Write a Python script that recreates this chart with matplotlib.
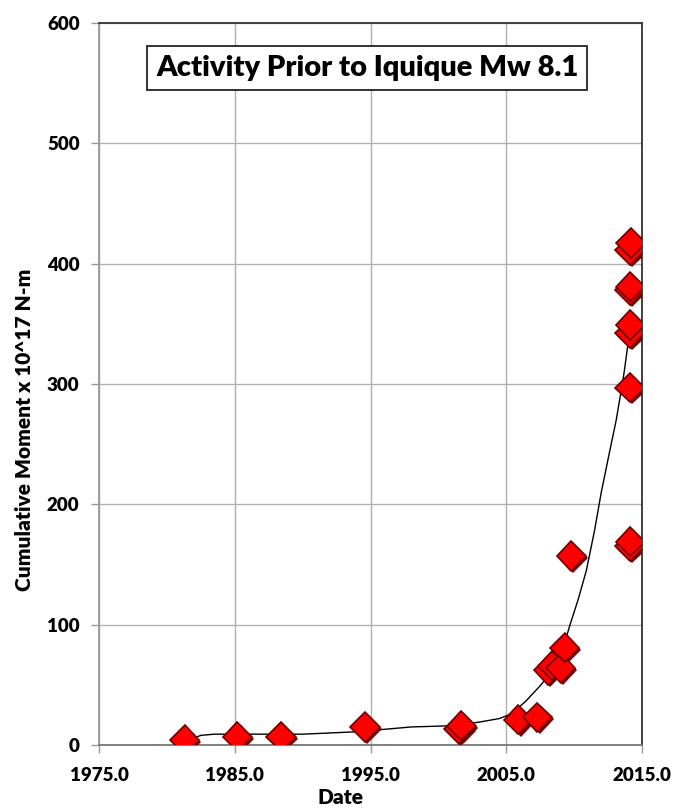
import matplotlib
matplotlib.use('Agg')
import matplotlib.pyplot as plt
import matplotlib.patheffects as pe

plt.rcParams['font.family'] = ['Lato', 'DejaVu Sans']
plt.rcParams['font.weight'] = 'heavy'

# eventi (data decimale, momento cumulativo x 10^17 N-m)
date = [1981.3, 1985.2, 1988.4, 1994.6, 2001.5, 2001.7, 2005.9, 2007.3,
        2008.1, 2008.4, 2009.0, 2009.3, 2009.8,
        2014.1, 2014.15, 2014.1, 2014.1, 2014.15, 2014.1, 2014.15, 2014.1, 2014.2]
momento = [4, 7, 7, 15, 13, 16, 21, 23,
           62, 66, 64, 81, 157,
           165, 169, 297, 342, 349, 378, 381, 411, 417]

# curva di tendenza
trend_x = [1981.6, 1982.5, 1983.5, 1990.0, 1994.0, 1996.0, 1998.0, 2001.0, 2003.0,
           2004.5, 2005.4, 2006.4, 2007.4, 2008.0, 2008.6, 2009.2, 2009.7, 2010.3,
           2010.9, 2011.5, 2012.0, 2012.6, 2013.1, 2013.4, 2013.7, 2014.0]
trend_y = [4, 8, 9, 9, 11, 13, 15, 16, 19,
           22, 26, 36, 48, 56, 65, 81, 100, 121,
           145, 178, 210, 243, 270, 290, 311, 336]

xticks = [1975, 1985, 1995, 2005, 2015]
yticks = [0, 100, 200, 300, 400, 500, 600]

fig = plt.figure(figsize=(6.78, 8.09), dpi=100)
ax = fig.add_axes([99 / 678, 64 / 809, 543 / 678, 722 / 809])

ax.plot(trend_x, trend_y, color='black', lw=1.0, zorder=2)
ax.plot(date, momento, linestyle='none', marker='D', markersize=15,
        markerfacecolor='#ff0000', markeredgecolor='#6e0000', markeredgewidth=1.2,
        zorder=3,
        path_effects=[pe.SimplePatchShadow(offset=(1.5, -1.5), shadow_rgbFace='#7a0000', alpha=1.0),
                      pe.Normal()])

ax.set_xlim(1975, 2015)
ax.set_ylim(0, 600)
ax.set_xticks(xticks)
ax.set_xticklabels([f'{t:.1f}' for t in xticks])
ax.set_yticks(yticks)
ax.tick_params(labelsize=13.5, direction='out', length=6, color='#999999', width=1)
ax.tick_params(axis='y', pad=8)
ax.tick_params(axis='x', pad=10)
ax.grid(True, color='#b0b0b0', lw=1)
ax.set_axisbelow(True)

for s in ['top', 'right']:
    ax.spines[s].set_color('#333333')
    ax.spines[s].set_linewidth(1.3)
ax.spines['left'].set_color('#999999')
ax.spines['bottom'].set_color('#777777')
ax.spines['left'].set_linewidth(1.3)
ax.spines['bottom'].set_linewidth(1.3)

ax.set_xlabel('Date', fontsize=15, fontweight='heavy')
ax.set_ylabel('Cumulative Moment x 10^17 N-m', fontsize=15, fontweight='heavy')
ax.xaxis.set_label_coords(0.444, -0.059)
ax.yaxis.set_label_coords(-0.12, 0.436)

ax.text(0.494, 0.938, 'Activity Prior to Iquique Mw 8.1', transform=ax.transAxes,
        ha='center', va='center', fontsize=21, fontweight='heavy', zorder=5,
        bbox=dict(boxstyle='square,pad=0.3', facecolor='white', edgecolor='#222222', lw=1.3))

fig.savefig('out.png', dpi=100)
